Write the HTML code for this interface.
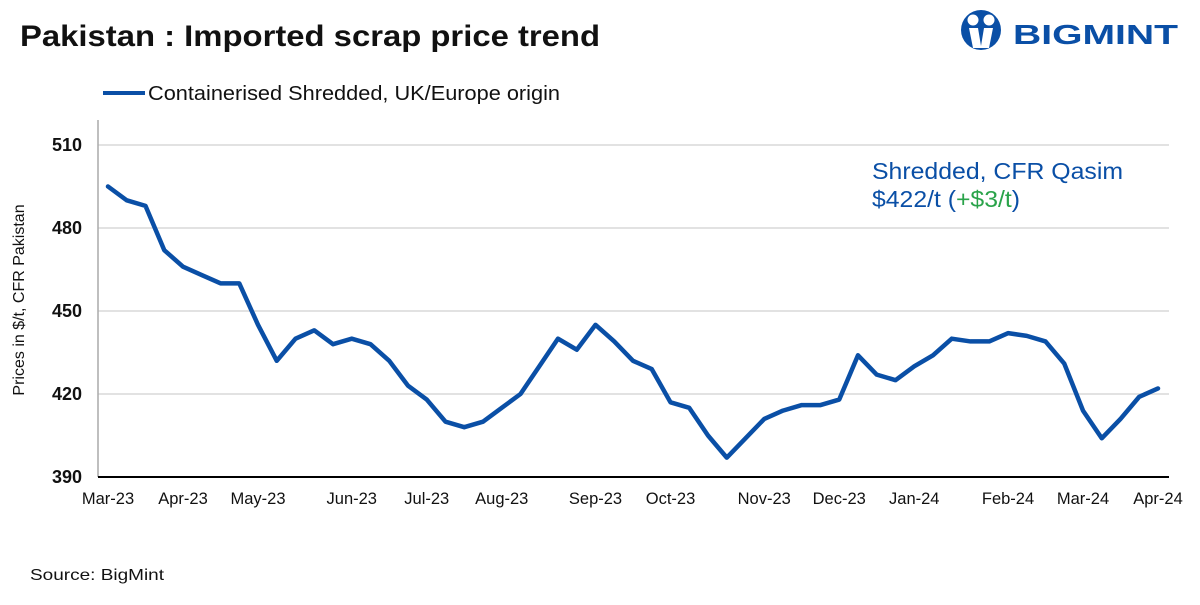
<!DOCTYPE html>
<html><head><meta charset="utf-8"><style>
body{margin:0;width:1200px;height:600px;background:#fff;font-family:"Liberation Sans",Arial,sans-serif;overflow:hidden}
</style></head><body>
<svg width="1200" height="600" xmlns="http://www.w3.org/2000/svg" font-family="Liberation Sans, Arial, sans-serif">
<text x="20" y="46" font-size="30" font-weight="bold" fill="#111" textLength="580" lengthAdjust="spacingAndGlyphs">Pakistan : Imported scrap price trend</text>
<g>
<circle cx="981" cy="30" r="20" fill="#0a4fa6"/>
<circle cx="973" cy="20" r="5.5" fill="#fff"/><circle cx="989" cy="20" r="5.5" fill="#fff"/>
<path d="M969 28 L978 28 L981 46 L984 28 L993 28 L989 48 L973 48 Z" fill="#fff"/>
<text x="1013" y="44" font-size="28" font-weight="bold" fill="#0a4fa6" textLength="165" lengthAdjust="spacingAndGlyphs">BIGMINT</text>
</g>
<line x1="103" y1="93" x2="145" y2="93" stroke="#0a4fa6" stroke-width="4"/>
<text x="148" y="100" font-size="20" fill="#111" textLength="412" lengthAdjust="spacingAndGlyphs">Containerised Shredded, UK/Europe origin</text>
<g id="grid"></g>
<line x1="98" y1="120" x2="98" y2="477" stroke="#aaa" stroke-width="1.5"/>
<line x1="98" y1="477" x2="1169" y2="477" stroke="#000" stroke-width="2"/>
<text transform="translate(24,300) rotate(-90)" text-anchor="middle" font-size="16" fill="#111">Prices in $/t, CFR Pakistan</text>
<g id="marks"></g>
<text x="872" y="179" font-size="23" fill="#0a4fa6" textLength="251" lengthAdjust="spacingAndGlyphs">Shredded, CFR Qasim</text>
<text x="872" y="207" font-size="23" fill="#0a4fa6" textLength="148" lengthAdjust="spacingAndGlyphs">$422/t (<tspan fill="#2aa34a">+$3/t</tspan>)</text>
<text x="30" y="580" font-size="16" fill="#111" textLength="134" lengthAdjust="spacingAndGlyphs">Source: BigMint</text>
</svg>
<script>
const prices=[495,490,488,472,466,463,460,460,445,432,440,443,438,440,438,432,423,418,410,408,410,415,420,430,440,436,445,439,432,429,417,415,405,397,404,411,414,416,416,418,434,427,425,430,434,440,439,439,442,441,439,431,414,404,411,419,422];
const xLabels=["Mar-23","Apr-23","May-23","Jun-23","Jul-23","Aug-23","Sep-23","Oct-23","Nov-23","Dec-23","Jan-24","Feb-24","Mar-24","Apr-24"];
const xLabelIdx=[0,4,8,13,17,21,26,30,35,39,43,48,52,56];
const yTicks=[390,420,450,480,510];
const NS="http://www.w3.org/2000/svg";
const X=i=>108+i*(1158-108)/(prices.length-1);
const Y=v=>477-(v-390)*(332/120);
const grid=document.getElementById('grid'),marks=document.getElementById('marks');
yTicks.forEach(t=>{
 if(t>390){const l=document.createElementNS(NS,'line');
 l.setAttribute('x1',98);l.setAttribute('x2',1169);l.setAttribute('y1',Y(t));l.setAttribute('y2',Y(t));
 l.setAttribute('stroke','#d9d9d9');l.setAttribute('stroke-width',1.5);
 
 
 grid.appendChild(l);}
 const tx=document.createElementNS(NS,'text');
 tx.setAttribute('x',82);tx.setAttribute('y',Y(t)+6);tx.setAttribute('text-anchor','end');
 tx.setAttribute('font-size','18');tx.setAttribute('font-weight','bold');tx.setAttribute('fill','#111');
 tx.textContent=t;
 
 
 grid.appendChild(tx);
});
xLabels.forEach((s,k)=>{
 const tx=document.createElementNS(NS,'text');
 tx.setAttribute('x',X(xLabelIdx[k]));tx.setAttribute('y',504);tx.setAttribute('text-anchor','middle');
 tx.setAttribute('font-size','16.5');tx.setAttribute('fill','#111');
 tx.textContent=s;
 
 
 grid.appendChild(tx);
});
const p=document.createElementNS(NS,'polyline');
p.setAttribute('points',prices.map((v,i)=>X(i)+','+Y(v)).join(' '));
p.setAttribute('fill','none');p.setAttribute('stroke','#0a4fa6');p.setAttribute('stroke-width',4.5);
p.setAttribute('stroke-linejoin','round');p.setAttribute('stroke-linecap','round');


marks.appendChild(p);
</script>
</body></html>
